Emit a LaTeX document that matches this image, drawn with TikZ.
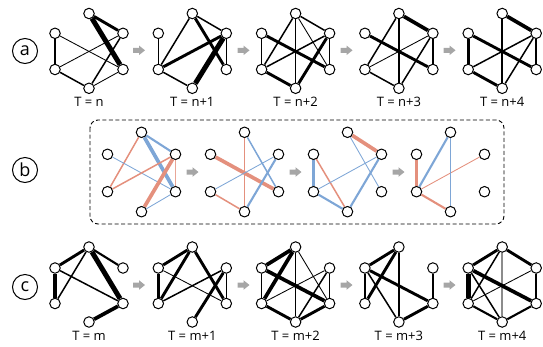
\documentclass[tikz,border=0pt]{standalone}
\usepackage{fontspec}
\setmainfont{Open Sans}
\pgfdeclarelayer{bg}
\pgfsetlayers{bg,main}
\definecolor{redE}{HTML}{E4907D}
\definecolor{bluE}{HTML}{7EA6D6}
\definecolor{arrg}{HTML}{A6A6A6}
\definecolor{grayE}{HTML}{8C8C8C}
\tikzset{
  vtx/.style={circle,draw=black,fill=white,minimum size=10.5pt,inner sep=0pt,line width=1pt},
  wa/.style={line width=0.85pt},
  wb/.style={line width=1.5pt},
  wc/.style={line width=2.1pt},
  wd/.style={line width=2.9pt},
  we/.style={line width=3.7pt},
  wf/.style={line width=5pt},
  tlabel/.style={font=\fontsize{13}{15}\selectfont, inner sep=0pt},
  circlab/.style={circle,draw,line width=1pt,minimum size=25pt,inner sep=0pt,font=\fontsize{18}{20}\selectfont},
}
\newcommand\hexg[6]{%
 \node[vtx] (#1T) at (#2,#3) {};
 \node[vtx] (#1UL) at (#2-34,#4) {};
 \node[vtx] (#1UR) at (#2+34,#4) {};
 \node[vtx] (#1LL) at (#2-34,#5) {};
 \node[vtx] (#1LR) at (#2+34,#5) {};
 \node[vtx] (#1B) at (#2,#6) {};}
\newcommand\E[3]{\draw[#1] (#2) -- (#3);}
\newcommand\garrow[2]{\fill[arrg] (#1,#2-2.5) -- (#1+6,#2-2.5) -- (#1+6,#2-4.8) -- (#1+12,#2) -- (#1+6,#2+4.8) -- (#1+6,#2+2.5) -- (#1,#2+2.5) -- cycle;}
\begin{document}
\begin{tikzpicture}[x=1pt,y=-1pt]
\useasboundingbox (0,0) rectangle (543,346);
% row labels
\node[circlab] (ca) at (25,51) {a};
\node[circlab] (cb) at (25,170) {b};
\node[circlab] (cc) at (25,287) {c};
% dashed frame
\draw[line width=0.9pt,dash pattern=on 4pt off 2.5pt,rounded corners=8pt] (90,120) rectangle (504,224);
% row a
\hexg{a1}{89}{13.5}{33.3}{69.5}{88.3}
\hexg{a2}{192.3}{13.5}{33.3}{69.5}{88.3}
\hexg{a3}{295.6}{13.5}{33.3}{69.5}{88.3}
\hexg{a4}{398.9}{13.5}{33.3}{69.5}{88.3}
\hexg{a5}{502.2}{13.5}{33.3}{69.5}{88.3}
% row b
\hexg{b1}{141.5}{132.3}{154.3}{191.7}{211.7}
\hexg{b2}{244.5}{132.3}{154.3}{191.7}{211.7}
\hexg{b3}{347.5}{132.3}{154.3}{191.7}{211.7}
\hexg{b4}{450.5}{132.3}{154.3}{191.7}{211.7}
% row c
\hexg{c1}{89}{247}{268}{303.5}{322}
\hexg{c2}{192.3}{247}{268}{303.5}{322}
\hexg{c3}{295.6}{247}{268}{303.5}{322}
\hexg{c4}{398.9}{247}{268}{303.5}{322}
\hexg{c5}{502.2}{247}{268}{303.5}{322}
% labels
\node[tlabel] (la1) at (89,101.5) {T = n};
\node[tlabel] (la2) at (192.3,101.5) {T = n+1};
\node[tlabel] (la3) at (295.6,101.5) {T = n+2};
\node[tlabel] (la4) at (398.9,101.5) {T = n+3};
\node[tlabel] (la5) at (502.2,101.5) {T = n+4};
\node[tlabel] (lc1) at (89,336) {T = m};
\node[tlabel] (lc2) at (192.3,336) {T = m+1};
\node[tlabel] (lc3) at (295.6,336) {T = m+2};
\node[tlabel] (lc4) at (398.9,336) {T = m+3};
\node[tlabel] (lc5) at (502.2,336) {T = m+4};
% arrows
\garrow{133}{50.3}\garrow{237.5}{50.3}\garrow{340.5}{50.3}\garrow{443.5}{50.3}
\garrow{186.5}{172}\garrow{289.5}{172}\garrow{392.5}{172}
\garrow{133}{285}\garrow{237.5}{285}\garrow{340.5}{285}\garrow{443.5}{285}
\begin{pgfonlayer}{bg}
% a1
\E{wf}{a1T}{a1LR}\E{wd}{a1T}{a1UR}\E{wa}{a1UL}{a1LR}\E{wa}{a1LL}{a1UR}
\E{wb}{a1UL}{a1LL}\E{wb}{a1LL}{a1B}\E{wb}{a1B}{a1UR}\E{wa}{a1B}{a1LR}
% a2
\E{wb}{a2UL}{a2LL}\E{wb}{a2LL}{a2T}\E{wd}{a2LL}{a2UR}\E{wb}{a2LL}{a2B}
\E{wb}{a2T}{a2UR}\E{wd}{a2T}{a2LR}\E{wb}{a2UR}{a2LR}\E{wf}{a2UR}{a2B}
% a3
\E{wb}{a3UL}{a3LL}\E{wd}{a3UL}{a3LR}\E{wb}{a3T}{a3LL}\E{wb}{a3T}{a3B}
\E{wb}{a3T}{a3UR}\E{wa}{a3T}{a3LR}\E{wb}{a3LL}{a3UR}\E{wb}{a3UR}{a3LR}
\E{wd}{a3UR}{a3B}\E{wd}{a3LL}{a3B}
% a4
\E{we}{a4T}{a4UR}\E{wd}{a4UL}{a4LR}\E{wb}{a4T}{a4LL}\E{wb}{a4T}{a4B}
\E{wa}{a4LL}{a4UR}\E{wb}{a4UR}{a4B}\E{wb}{a4UR}{a4LR}\E{wb}{a4LL}{a4B}
% a5
\E{we}{a5T}{a5UR}\E{wb}{a5T}{a5B}\E{wd}{a5UL}{a5LL}\E{wd}{a5UL}{a5LR}
\E{wb}{a5LL}{a5UR}\E{wd}{a5LL}{a5B}\E{wb}{a5UR}{a5B}\E{wb}{a5UR}{a5LR}
% b1
\E{wc,bluE}{b1T}{b1UR}\E{we,bluE}{b1T}{b1LR}\E{wb,redE}{b1T}{b1LL}
\E{wa,bluE}{b1UL}{b1LR}\E{wb,redE}{b1LL}{b1UR}\E{we,redE}{b1UR}{b1B}
\E{wb,redE!80}{b1UR}{b1LR}\E{wa,bluE}{b1B}{b1LR}
% b2
\E{we,redE}{b2UL}{b2LR}\E{wb,redE}{b2T}{b2B}\E{wb,bluE}{b2T}{b2LR}
\E{wa,bluE}{b2LL}{b2UR}\E{wc,bluE}{b2UR}{b2B}\E{wb,redE}{b2LL}{b2B}
% b3
\E{we,redE}{b3T}{b3UR}\E{wa,bluE}{b3T}{b3LR}\E{wc,bluE}{b3UL}{b3LL}
\E{wb,redE}{b3UL}{b3B}\E{wa,bluE}{b3LL}{b3UR}\E{wc,bluE}{b3LL}{b3B}
\E{wc,bluE}{b3UR}{b3B}
% b4
\E{we,redE}{b4UL}{b4LL}\E{wc,bluE}{b4LL}{b4T}\E{wa,redE}{b4LL}{b4UR}
\E{wc,redE}{b4LL}{b4B}\E{wa,bluE}{b4T}{b4B}
% c1
\E{wd}{c1T}{c1UL}\E{wb}{c1T}{c1LL}\E{wc}{c1T}{c1UR}\E{wf}{c1T}{c1LR}
\E{we}{c1UL}{c1LL}\E{wb}{c1UL}{c1LR}\E{we}{c1LR}{c1B}
% c2
\E{wd}{c2T}{c2UL}\E{wd}{c2T}{c2LL}\E{wd}{c2T}{c2LR}\E{wd}{c2UL}{c2LL}
\E{wa}{c2UL}{c2LR}\E{wb}{c2LL}{c2UR}\E{wa}{c2UR}{c2LR}\E{wd}{c2UR}{c2B}
% c3
\E{we}{c3T}{c3UL}\E{we}{c3T}{c3LL}\E{we}{c3UL}{c3LR}\E{wb}{c3T}{c3B}
\E{wa}{c3T}{c3LR}\E{wa}{c3LL}{c3UR}\E{wb}{c3UR}{c3LR}\E{wb}{c3UR}{c3B}
\E{wd}{c3LR}{c3B}\E{wd}{c3LL}{c3B}\E{wb}{c3UL}{c3LL}
% c4
\E{wd}{c4T}{c4UL}\E{wd}{c4T}{c4LL}\E{wb}{c4T}{c4B}\E{wb}{c4UL}{c4LL}
\E{wd}{c4UL}{c4LR}\E{wb}{c4UL}{c4B}\E{wb}{c4UR}{c4LR}\E{wd}{c4LR}{c4B}
% c5
\E{wd}{c5T}{c5UL}\E{wd}{c5T}{c5UR}\E{wb,grayE}{c5T}{c5B}\E{wf}{c5UL}{c5LL}
\E{we}{c5UL}{c5LR}\E{wb}{c5UL}{c5B}\E{wb}{c5LL}{c5T}\E{wa}{c5LL}{c5UR}
\E{wc}{c5LL}{c5B}\E{wb}{c5UR}{c5LR}\E{wc}{c5LR}{c5B}
\end{pgfonlayer}
\end{tikzpicture}
\end{document}
